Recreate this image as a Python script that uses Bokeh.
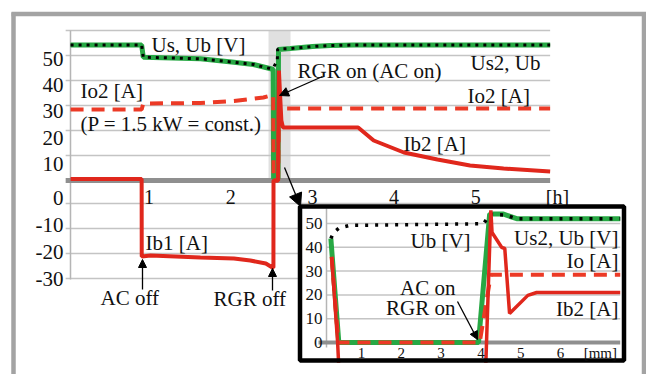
from bokeh.plotting import figure
from bokeh.models import Range1d, Arrow, NormalHead
from bokeh.core.properties import value
from bokeh.embed import file_html
from bokeh.resources import INLINE

W, H = 646, 374
FONT = value("Liberation Serif")

# ---------------- main chart data (time in hours) ----------------
us_t = [0.04, 0.91, 0.93, 1.63, 2.04, 2.28, 2.49, 2.52, 2.525, 2.58, 2.585, 2.73, 3.0, 3.22, 3.5, 5.91]
us_v = [54.2, 54.2, 49.3, 48.7, 47.3, 46.4, 44.7, 44.4, 0.8, 0.8, 52.4, 52.8, 53.6, 54.0, 54.2, 54.2]
ub_t = [0.04, 0.91, 0.93, 1.63, 2.04, 2.28, 2.49, 2.523, 2.57, 2.575, 2.73, 3.0, 3.22, 3.5, 5.91]
ub_v = [54.2, 54.2, 49.3, 48.7, 47.3, 46.4, 44.7, 45.2, 48.0, 52.6, 52.8, 53.6, 54.0, 54.2, 54.2]
io_t = [0.04, 0.91, 0.93, 1.63, 2.04, 2.4, 2.52, 2.525, 2.58, 2.59, 5.91]
io_v = [28.4, 28.4, 30.8, 31.0, 31.8, 33.2, 34.2, 0.0, 0.0, 28.8, 28.8]
ib_t = [0.04, 0.91, 0.911, 1.02, 1.63, 2.04, 2.24, 2.43, 2.51, 2.523, 2.524, 2.58, 2.59, 2.62,
        2.64, 3.56, 3.75, 4.12, 4.53, 4.93, 5.34, 5.91]
ib_v = [0.6, 0.6, -30.4, -30.0, -30.8, -31.2, -32.0, -33.2, -34.8, -34.8, 0.0, 0.0, 44.0, 24.0,
        21.2, 21.2, 16.0, 11.2, 8.4, 6.0, 4.8, 3.6]
band_t = [2.463, 2.732]            # grey band around the switch-over
band_v = [0, 60]

grid_upper = [10, 20, 30, 40, 50, 60]
grid_lower = [0, -10, -20, -30]
yticks_upper = [50, 40, 30, 20, 10]
yticks_lower = [0, -10, -20, -30]
xticks = [1, 2, 3, 4, 5, 6]
xtick_labels = ["1", "2", "3", "4", "5", "[h]"]

# ---------------- inset data (time in mm) ----------------
ius_t = [0.23, 0.43, 3.94, 4.22, 4.55, 4.9, 7.5]
ius_v = [43.7, 0.0, 0.0, 54.0, 54.0, 52.0, 52.0]
iub_t = [0.23, 0.3, 0.43, 0.7, 4.07, 4.22, 4.6, 4.9, 7.5]
iub_v = [43.7, 46.2, 48.0, 49.2, 49.9, 53.8, 53.6, 52.0, 52.0]
iio_t = [0.25, 0.42, 3.97, 4.25, 7.5]
iio_v = [36.0, 0.0, 0.0, 28.5, 28.5]
iib_t = [0.25, 0.40, 0.46, 4.10, 4.25, 4.28, 4.52, 4.60, 4.72, 5.18, 5.40, 7.5]
iib_v = [36.0, 0.0, -21.0, -21.0, 55.5, 46.2, 40.0, 39.5, 12.2, 19.8, 21.0, 21.0]

igrid = [10, 20, 30, 40, 50]
iyticks = [0, 10, 20, 30, 40, 50]
ixticks = [1, 2, 3, 4, 5, 6, 7]
ixtick_labels = ["1", "2", "3", "4", "5", "6", "[mm]"]


def rng(pa, va, pb, vb, p_start, p_end):
    k = (vb - va) / (pb - pa)
    return Range1d(start=va + (p_start - pa) * k, end=va + (p_end - pa) * k)


p = figure(width=W, height=H,
           x_range=rng(148.5, 1, 557, 6, 0, W),
           y_range=rng(180, 0, 30, 60, H, 0),
           output_backend="svg", toolbar_location=None,
           x_axis_type=None, y_axis_type=None, min_border=0,
           outline_line_color=None, title=None,
           background_fill_color="white", border_fill_color="white")
p.extra_x_ranges = {"px": Range1d(0, W), "ix": rng(361, 1, 560, 6, 0, W)}
p.extra_y_ranges = {"py": Range1d(H, 0),
                    "lo": rng(203, 0, 278, -30, H, 0),
                    "yu": rng(58, 50, 163.6, 10, H, 0),
                    "yl": rng(197.6, 0, 278.9, -30, H, 0),
                    "iy": rng(342, 0, 223, 50, H, 0)}

GRID = "#c4c4c4"
GREEN = "#27a844"
RED = "#e0271c"
RED_D = "#ec3a26"
PX = dict(x_range_name="px", y_range_name="py")

# outer grey frame
p.segment(x0=[11, 13, 643.5], y0=[13.5, 12, 12], x1=[646, 13, 643.5], y1=[13.5, H, H],
          line_color="#a3a3a3", line_width=4.5, **PX)

# main chart
GX0, GX1 = -0.02, 5.91
p.quad(left=band_t[0], right=band_t[1], bottom=band_v[0], top=band_v[1],
       fill_color="#e0e0e0", line_color=None)
p.segment(x0=GX0, x1=GX1, y0=grid_upper, y1=grid_upper, line_color=GRID, line_width=1.5)
p.segment(x0=GX0, x1=GX1, y0=grid_lower, y1=grid_lower, line_color=GRID, line_width=1.5,
          y_range_name="lo")
p.segment(x0=70, y0=30, x1=70, y1=279, line_color="#b5b5b5", line_width=1.5, **PX)
p.segment(x0=GX0, x1=GX1, y0=0, y1=0, line_color="#8f8f8f", line_width=5)

p.line(us_t, us_v, line_color=GREEN, line_width=5)
p.line(io_t, io_v, line_color=RED_D, line_width=4, line_dash="13 8")
p.line(ub_t, ub_v, line_color="black", line_width=3, line_dash="3 5")
p.line(ib_t, ib_v, line_color=RED, line_width=4)

p.text(x=63, y=yticks_upper, text=[str(v) for v in yticks_upper], x_range_name="px",
       y_range_name="yu", text_font=FONT, text_font_size="21px", text_align="right",
       text_baseline="middle", text_color="#111111")
p.text(x=63, y=yticks_lower, text=[str(v) for v in yticks_lower], x_range_name="px",
       y_range_name="yl", text_font=FONT, text_font_size="21px", text_align="right",
       text_baseline="middle", text_color="#111111")
p.text(x=xticks, y=196, text=xtick_labels, y_range_name="py", text_font=FONT,
       text_font_size="20px", text_align="center", text_baseline="middle",
       text_color="#111111")

main_txt = ["Us, Ub [V]", "RGR on (AC on)", "Us2, Ub", "Io2 [A]", "Io2 [A]",
            "(P = 1.5 kW = const.)", "Ib2 [A]", "Ib1 [A]", "AC off", "RGR off"]
main_x = [151, 297, 470, 467, 80, 80, 403, 145, 100, 213]
main_y = [44, 70, 62, 95, 90, 123, 143, 242, 297, 298]
p.text(x=main_x, y=main_y, text=main_txt, text_font=FONT, text_font_size="21px",
       text_align="left", text_baseline="middle", text_color="#111111", **PX)

# inset
p.quad(left=299.5, right=623.5, top=206, bottom=360, fill_color="white", line_color=None, **PX)
IX0, IX1 = 0.126, 7.5
p.segment(x0=IX0, x1=IX1, y0=igrid, y1=igrid, line_color=GRID, line_width=1.5,
          x_range_name="ix", y_range_name="iy")
p.segment(x0=326, y0=208, x1=326, y1=347, line_color="#b5b5b5", line_width=1.5, **PX)
p.segment(x0=-0.08, x1=IX1, y0=0, y1=0, line_color="#8f8f8f", line_width=4,
          x_range_name="ix", y_range_name="iy")

IR = dict(x_range_name="ix", y_range_name="iy")
p.line(ius_t, ius_v, line_color=GREEN, line_width=5, **IR)
p.line(iio_t, iio_v, line_color=RED_D, line_width=4, line_dash="13 8", **IR)
p.line(iub_t, iub_v, line_color="black", line_width=3.5, line_dash="3 7", **IR)
p.line(iib_t, iib_v, line_color=RED, line_width=3.5, **IR)

p.quad(left=292, right=630, top=362.3, bottom=H, fill_color="white", line_color=None, **PX)
p.quad(left=299.5, right=623.5, top=206, bottom=360, fill_color=None, line_color="black",
       line_width=4.5, **PX)

p.text(x=322, y=iyticks, text=[str(v) for v in iyticks], x_range_name="px", y_range_name="iy",
       text_font=FONT, text_font_size="17px", text_align="right", text_baseline="middle",
       text_color="#111111")
p.text(x=ixticks, y=352, text=ixtick_labels, x_range_name="ix", y_range_name="py",
       text_font=FONT, text_font_size="15px", text_align="center", text_baseline="middle",
       text_color="#111111")

in_txt = ["Ub [V]", "Us2, Ub [V]", "Io [A]", "AC on", "RGR on", "Ib2 [A]"]
in_x = [410, 618, 618, 455, 455, 618]
in_y = [240, 237, 260, 287, 307, 308]
in_al = ["left", "right", "right", "right", "right", "right"]
p.text(x=in_x, y=in_y, text=in_txt, text_align=in_al, text_font=FONT, text_font_size="21px",
       text_baseline="middle", text_color="#111111", **PX)

# arrows
def arrow(x0, y0, x1, y1, size):
    p.add_layout(Arrow(x_start=x0, y_start=y0, x_end=x1, y_end=y1, line_color="black",
                       line_width=1.3,
                       end=NormalHead(size=size, fill_color="black", line_color="black",
                                      line_width=1),
                       **PX))

arrow(322, 76, 279, 95, 9)      # RGR on (AC on)
arrow(284, 167, 300, 206, 13)   # zoom into inset
arrow(142, 289, 142, 259, 8)    # AC off
arrow(272, 290, 272, 268, 8)    # RGR off
arrow(457, 301, 477, 339, 8)    # AC on / RGR on (inset)

open("out.html", "w").write(file_html(p, INLINE))
